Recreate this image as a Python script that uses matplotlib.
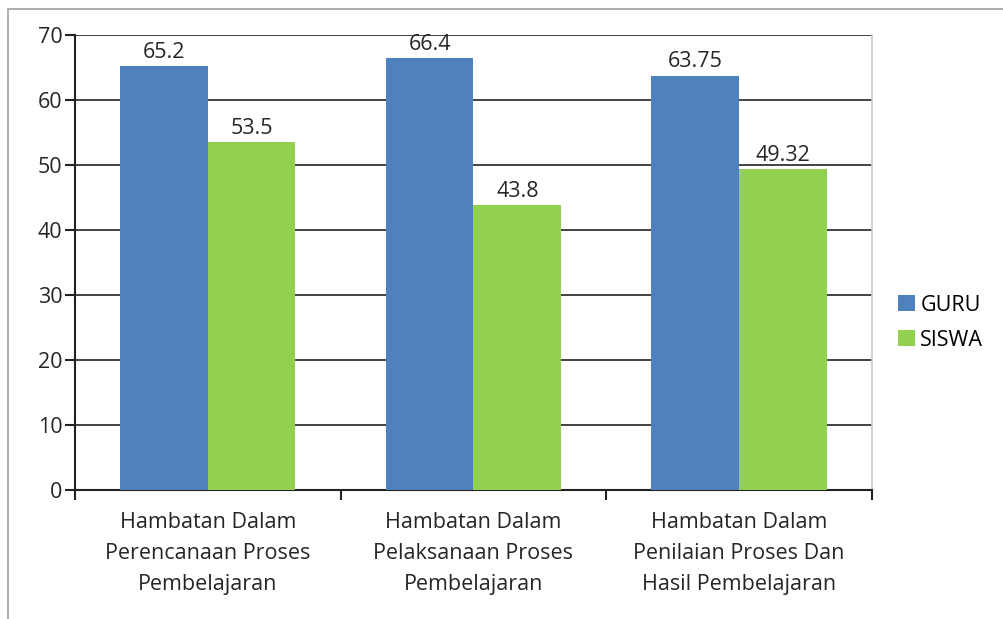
import numpy as np
import matplotlib.pyplot as plt
from matplotlib.patches import Rectangle

# Data
categories = ['Hambatan Dalam\nPerencanaan Proses\nPembelajaran',
              'Hambatan Dalam\nPelaksanaan Proses\nPembelajaran',
              'Hambatan Dalam\nPenilaian Proses Dan\nHasil Pembelajaran']
guru = [65.2, 66.4, 63.75]
siswa = [53.5, 43.8, 49.32]
guru_labels = ['65.2', '66.4', '63.75']
siswa_labels = ['53.5', '43.8', '49.32']

blue = '#4f81bd'
green = '#92d050'
txt = '#262626'
fs = 15.5

plt.rcParams['font.family'] = ['Open Sans', 'DejaVu Sans']

fig = plt.figure(figsize=(10.04, 6.19), dpi=100)
ax = fig.add_axes([0.0747, 0.2084, 0.7938, 0.7351])

# outer frame (top and left edges)
fig.patches.append(Rectangle((0.008, -0.1), 1.1, 1.085, transform=fig.transFigure,
                             fill=False, edgecolor='#a0a0a0', linewidth=1.2))

x = np.arange(len(categories))
w = 0.33
ax.bar(x - w / 2, guru, width=w, color=blue, label='GURU', zorder=3)
ax.bar(x + w / 2, siswa, width=w, color=green, label='SISWA', zorder=3)

for i in range(len(x)):
    ax.text(x[i] - w / 2, guru[i] + 0.5, guru_labels[i], ha='center', va='bottom',
            fontsize=fs, color=txt)
    ax.text(x[i] + w / 2, siswa[i] + 0.5, siswa_labels[i], ha='center', va='bottom',
            fontsize=fs, color=txt)

ax.set_xlim(-0.5, 2.5)
ax.set_ylim(0, 70)
ax.set_yticks(range(0, 71, 10))
ax.yaxis.grid(True, color='#222222', linewidth=1.2, zorder=0)
ax.set_axisbelow(True)

# category boundaries as ticks, labels centered
ax.set_xticks([-0.5, 0.5, 1.5, 2.5])
ax.set_xticklabels([])
ax.set_xticks(x, minor=True)
ax.set_xticklabels(categories, minor=True, fontsize=fs, linespacing=1.63, color=txt)
ax.tick_params(axis='x', which='minor', length=0, pad=16)
ax.tick_params(axis='x', which='major', length=7, width=1.5, direction='out', color='#222222')
ax.tick_params(axis='y', length=7, width=1.5, direction='out', labelsize=fs,
               labelcolor=txt, color='#222222', pad=2)

for s in ['left', 'bottom']:
    ax.spines[s].set_color('#222222')
    ax.spines[s].set_linewidth(1.5)
ax.spines['top'].set_visible(False)
ax.spines['right'].set_color('#c8c8c8')
ax.spines['right'].set_linewidth(1.2)

ax.legend(loc='center left', bbox_to_anchor=(1.008, 0.368), frameon=False,
          fontsize=fs, handlelength=0.8, handleheight=0.8, handletextpad=0.25,
          labelspacing=0.65)

fig.savefig('out.png', dpi=100)
